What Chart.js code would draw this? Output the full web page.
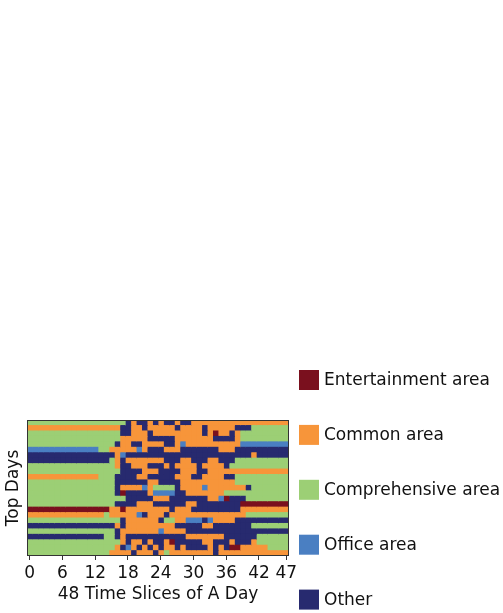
<!DOCTYPE html>
<html>
<head>
<meta charset="utf-8">
<script src="https://cdn.jsdelivr.net/npm/chart.js@4.4.1/dist/chart.umd.min.js"></script>
<style>
  html, body { margin: 0; padding: 0; background: #ffffff; }
  canvas { display: block; }
</style>
</head>
<body>
<canvas id="heat" width="503" height="613"></canvas>
<script>
// Area categories, their one-letter codes in the grid below, and fill colours
const areaTypes = ['Entertainment area', 'Common area', 'Comprehensive area', 'Office area', 'Other'];
const areaCodes = ['R', 'O', 'G', 'B', 'N'];
const areaColors = ['#7a101e', '#f7953a', '#9ccf75', '#4a7fc2', '#272a6f'];

// 48 half-hour time slices, tick labels on the x axis
const timeSlices = Array.from({ length: 48 }, (_, i) => i);
const xTickValues = [0, 6, 12, 18, 24, 30, 36, 42, 47];

// One row per top day, one letter per time slice (groups of 6 slices)
const dayLabels = Array.from({ length: 25 }, (_, i) => 'Day ' + (i + 1));
const dayRows = [
  'GGGGGG GGGGGG GGGGGG NONNON ONNONN OOOOOO OOOOOO OOOOOO',
  'OOOOOO OOOOOO OOOOON NOONOO OOONOO OONOOO OONNNG GGGGGG',
  'GGGGGG GGGGGG GGGGGN NOOONO OOOOOO OONORO ONOGGG GGGGGG',
  'GGGGGG GGGGGG GGGGGO OOOONN NNNOOO OOOONN NNOGGG GGGGGG',
  'GGGGGG GGGGGG GGGGNO ONNOOO ONNOBO OOOOOO OOOBBB BBBBBB',
  'BBBBBB BBBBBB BGGOOO OOBONN NOOONN NNNNNO OONNNN NNNNNN',
  'NNNNNN NNNNNN NNNNOB NNNNNN NNNNNN NNNNNN NNNNNO NNNNNN',
  'NNNNNN NNNNNN NNNGON OOOOOO ONNNOO NNNOON NNGGGG GGGGGG',
  'GGGGGG GGGGGG GGGGON NOOONN NONOOO ONOOOO NGGGGG GGGGGG',
  'GGGGGG GGGGGG GGGGGN NNNOOO NNNNOO ONNOOO OOOOOO OOOOOO',
  'OOOOOO OOOOOO OGGGNN NNOONN NNNOOO NNOOOO NNGGGG GGGGGG',
  'GGGGGG GGGGGG GGGGNN NNNNOO NNNNOO OOOOOO OOGGGG GGGGGG',
  'GGGGGG GGGGGG GGGGNO OOOBOG GGGNOO OOBOOO OOOONG GGGGGG',
  'GGGGGG GGGGGG GGGGNR NNNNOB BBBNNO OOOOOO GGGGGG GGGGGG',
  'GGGGGG GGGGGG GGGGGG NNNNNO OONNNN NNNOOB RNNNGG GGGGGG',
  'GGGGGG GGGGGG GGGGNN NNOOON NNNNNO ONNNNN NNNRRR RRRRRR',
  'RRRRRR RRRRRR RRROOR OOOOOO OONOOO NNNNNN NNNOOO OOOOOO',
  'OOOOOO OOOOOO OOGOOO OOBNOO ONOOOO OOOOOO OOOOGG GGGGGG',
  'GGGGGG GGGGGG GGGGGN OOOOOO NGGOOB BBNBOO OONNNN NNNNNN',
  'NNNNNN NNNNNN NNNNON OOOOOO OOONNN NNOONN NNNNNG GGGGGG',
  'GGGGGG GGGGGG GGGGNO OOOOOO BOOOON NNNNNN NNNNNN NNNNNN',
  'NNNNNN NNNNNN NNGGNO NNNNNN NNNNNO OOOOOO NNNNNN GGGGGG',
  'GGGGGG GGGGGG GGGGGO NOONON NORNNN NNOONN NONNNO GGGGGG',
  'GGGGGG GGGGGG GGGGON BONONO NOONON NNNONO NRROOO OOGGGG',
  'GGGGGG GGGGGG GGGOOO ONOOON OGOOOO OOOONO OOOOOO OOOOOO'
];

const cellRows = dayRows.map(r => r.replace(/ /g, ''));
const fontFamily = "'DejaVu Sans', 'Liberation Sans', sans-serif";
const textColor = '#111111';
const spineColor = '#333333';

// Each time slice is one dataset of floating bars spanning [slice-0.5, slice+0.5]
const datasets = timeSlices.map(c => ({
  label: 'Slice ' + c,
  data: cellRows.map(() => [c - 0.5, c + 0.5]),
  backgroundColor: cellRows.map(r => areaColors[areaCodes.indexOf(r[c])]),
  borderWidth: 0,
  barPercentage: 1,
  categoryPercentage: 1,
  grouped: false,
  inflateAmount: 0.4
}));

// Frame around the plot area
const framePlugin = {
  id: 'frame',
  afterDatasetsDraw(chart) {
    const a = chart.chartArea;
    const ctx = chart.ctx;
    ctx.save();
    ctx.strokeStyle = spineColor;
    ctx.lineWidth = 1;
    ctx.strokeRect(Math.round(a.left) + 0.5, Math.round(a.top) + 0.5,
                   Math.round(a.right - a.left) - 1, Math.round(a.bottom - a.top) - 1);
    ctx.restore();
  }
};

// Vertical legend to the right of the heatmap
const sideLegend = {
  id: 'sideLegend',
  afterDraw(chart) {
    const ctx = chart.ctx;
    ctx.save();
    ctx.font = '17px ' + fontFamily;
    ctx.textBaseline = 'middle';
    ctx.textAlign = 'left';
    areaTypes.forEach((name, i) => {
      const cy = 380 + i * 54.9;
      ctx.fillStyle = areaColors[i];
      ctx.fillRect(299, cy - 10, 20, 20);
      ctx.fillStyle = textColor;
      ctx.fillText(name, 324, cy + 0.5);
    });
    ctx.restore();
  }
};

new Chart(document.getElementById('heat'), {
  type: 'bar',
  data: { labels: dayLabels, datasets },
  options: {
    indexAxis: 'y',
    responsive: false,
    devicePixelRatio: 1,
    animation: false,
    events: [],
    layout: { padding: { top: 420, right: 214, left: 0, bottom: 0 } },
    plugins: { legend: { display: false }, tooltip: { enabled: false } },
    scales: {
      x: {
        type: 'linear',
        min: -0.5,
        max: 47.5,
        afterBuildTicks: s => { s.ticks = xTickValues.map(v => ({ value: v })); },
        afterFit: s => { s.height = 57; },
        grid: { display: true, drawOnChartArea: false, drawTicks: true, tickLength: 4, color: spineColor, lineWidth: 1 },
        border: { display: false },
        ticks: { font: { family: fontFamily, size: 17 }, color: textColor, padding: 3, maxRotation: 0, autoSkip: false },
        title: { display: true, text: '48 Time Slices of A Day', font: { family: fontFamily, size: 17 }, color: textColor, padding: { top: 0, bottom: 8 } }
      },
      y: {
        type: 'category',
        afterFit: s => { s.width = 27; },
        grid: { display: false },
        border: { display: false },
        ticks: { display: false },
        title: { display: true, text: 'Top Days', font: { family: fontFamily, size: 17 }, color: textColor, padding: { top: 3, bottom: 0 } }
      }
    }
  },
  plugins: [framePlugin, sideLegend]
});
</script>
</body>
</html>
